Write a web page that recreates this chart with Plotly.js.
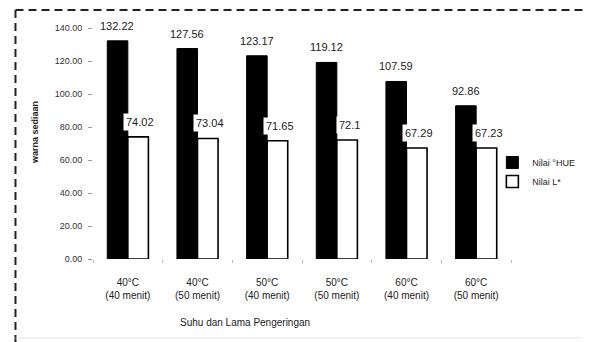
<!DOCTYPE html>
<html>
<head>
<meta charset="utf-8">
<script src="https://cdn.plot.ly/plotly-3.0.1.min.js"></script>
<style>
  html, body { margin: 0; padding: 0; background: #fff; }
  #chart { width: 592px; height: 342px; }
</style>
</head>
<body>
<div id="chart"></div>
<script>
// Drying treatments (temperature and duration)
const categories = [
  "40°C<br>(40 menit)",
  "40°C<br>(50 menit)",
  "50°C<br>(40 menit)",
  "50°C<br>(50 menit)",
  "60°C<br>(40 menit)",
  "60°C<br>(50 menit)"
];
// °Hue values
const hueValues = [132.22, 127.56, 123.17, 119.12, 107.59, 92.86];
// L* values
const lValues = [74.02, 73.04, 71.65, 72.1, 67.29, 67.23];

const seriesNames = ["Nilai °HUE", "Nilai L*"];
const yTicks = [0, 20, 40, 60, 80, 100, 120, 140];

const fontFamily = "'Liberation Sans', Arial, sans-serif";

const traces = [
  {
    type: "bar",
    name: seriesNames[0],
    x: categories,
    y: hueValues,
    marker: { color: "#000", line: { color: "#000", width: 1 } },
    hoverinfo: "skip"
  },
  {
    type: "bar",
    name: seriesNames[1],
    x: categories,
    y: lValues,
    marker: { color: "#fff", line: { color: "#000", width: 1.6 } },
    hoverinfo: "skip"
  }
];

// plot area geometry (pixels) used to place the frame lines and titles
const W = 592, H = 342;
const mL = 93, mR = 73, mT = 28, mB = 83;
const pw = W - mL - mR, ph = H - mT - mB;
const px = x => (x - mL) / pw;
const py = y => (H - mB - y) / ph;

// value labels above each bar (half a bar width left/right of the category centre),
// on a white box so they sit cleanly over the neighbouring dark bar
const barHalf = 10.5;
const valueLabels = [];
[hueValues, lValues].forEach((vals, s) => {
  vals.forEach((v, i) => {
    valueLabels.push({
      xref: "x", yref: "y",
      x: categories[i], y: v,
      text: String(v),
      showarrow: false,
      xanchor: "center", yanchor: "bottom",
      xshift: s === 0 ? -barHalf : barHalf + 2,
      yshift: 6,
      bgcolor: "#fff",
      borderpad: 2,
      font: { size: 11, color: "#222" }
    });
  });
});

const layout = {
  width: W,
  height: H,
  margin: { l: mL, r: mR, t: mT, b: mB, pad: 0 },
  paper_bgcolor: "#fff",
  plot_bgcolor: "#fff",
  font: { family: fontFamily, size: 10, color: "#222" },
  barmode: "group",
  bargap: 0.41,
  bargroupgap: 0,
  showlegend: true,
  legend: {
    x: px(500), y: py(148), xanchor: "left", yanchor: "top",
    font: { size: 9, color: "#222", family: fontFamily },
    bgcolor: "rgba(0,0,0,0)",
    itemwidth: 30,
    tracegroupgap: 2
  },
  xaxis: {
    type: "category",
    showgrid: false,
    showline: false,
    zeroline: false,
    ticks: "outside",
    tickson: "boundaries",
    ticklen: 3,
    tickcolor: "#bbb",
    ticklabelstandoff: 16,
    tickfont: { size: 10, color: "#222" }
  },
  yaxis: {
    range: [0, 140],
    tickvals: yTicks,
    ticktext: yTicks.map(v => v.toFixed(2)),
    showgrid: false,
    showline: false,
    zeroline: false,
    ticks: "outside",
    ticklen: 4,
    tickcolor: "#999",
    ticklabelstandoff: 4,
    tickfont: { size: 9, color: "#333" }
  },
  annotations: valueLabels.concat([
    {
      xref: "paper", yref: "paper",
      x: px(34), y: py(133),
      text: "<b>warna sediaan</b>",
      textangle: -90,
      showarrow: false,
      font: { size: 9, color: "#222" },
      xanchor: "center", yanchor: "middle"
    },
    {
      xref: "paper", yref: "paper",
      x: px(180), y: py(322),
      text: "Suhu dan Lama Pengeringan",
      showarrow: false,
      font: { size: 10, color: "#222" },
      xanchor: "left", yanchor: "middle"
    }
  ]),
  shapes: [
    // dashed frame: top and left edges
    {
      type: "line", xref: "paper", yref: "paper",
      x0: px(14), x1: px(W), y0: py(10), y1: py(10),
      line: { color: "#222", width: 2, dash: "8px,5px" }
    },
    {
      type: "line", xref: "paper", yref: "paper",
      x0: px(14), x1: px(14), y0: py(10), y1: py(H),
      line: { color: "#222", width: 2, dash: "8px,5px" }
    },
    // faint bottom edge
    {
      type: "line", xref: "paper", yref: "paper",
      x0: px(14), x1: px(W), y0: py(338), y1: py(338),
      line: { color: "#e4e4e4", width: 1 }
    }
  ]
};

Plotly.newPlot("chart", traces, layout, { staticPlot: true, displayModeBar: false });
</script>
</body>
</html>
